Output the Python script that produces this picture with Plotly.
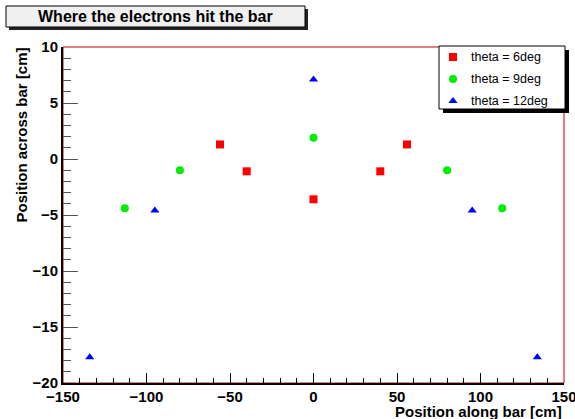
import plotly.graph_objects as go

# ---- data ----
x6 = [-56, -40, 0, 40, 56]
y6 = [1.3, -1.1, -3.6, -1.1, 1.3]
x9 = [-113, -80, 0, 80, 113]
y9 = [-4.4, -1.0, 1.9, -1.0, -4.4]
x12 = [-134, -95, 0, 95, 134]
y12 = [-17.7, -4.6, 7.1, -4.6, -17.7]
labels = ["theta = 6deg", "theta = 9deg", "theta = 12deg"]
colors = ["#ff0000", "#00ee00", "#0000ff"]
symbols = ["square", "circle", "triangle-up"]
title = "Where the electrons hit the bar"
xtitle = "Position along bar [cm]"
ytitle = "Position across bar [cm]"

W_, H_ = 575, 419
L, R, T, B = 63, 564, 47, 383
PW, PH = R - L, B - T

def px(x):
    return (x - L) / PW

def py(y):
    return (B - y) / PH

FONT = "Liberation Sans, Arial, Helvetica, sans-serif"

fig = go.Figure()
for xs, ys, lab, c, s in zip([x6, x9, x12], [y6, y9, y12], labels, colors, symbols):
    fig.add_trace(go.Scatter(x=xs, y=ys, mode="markers", name=lab,
                             marker=dict(color=c, symbol=s, size=8, line=dict(width=0)),
                             showlegend=False))

# legend markers on pixel axes
leg_rows = [57, 79, 101]
fig.add_trace(go.Scatter(x=[453] * 3, y=leg_rows, mode="markers", xaxis="x2", yaxis="y2",
                         marker=dict(color=colors, symbol=symbols, size=8, line=dict(width=0)),
                         showlegend=False, hoverinfo="skip", cliponaxis=False))

shapes = []
# title box shadow + box
shapes.append(dict(type="rect", xref="paper", yref="paper", x0=px(9), x1=px(308), y0=py(30), y1=py(9),
                   fillcolor="#222222", line=dict(width=0), layer="above"))
shapes.append(dict(type="rect", xref="paper", yref="paper", x0=px(6), x1=px(305), y0=py(27), y1=py(6),
                   fillcolor="#f0f0f0", line=dict(color="black", width=1), layer="above"))
# frame
shapes.append(dict(type="rect", xref="paper", yref="paper", x0=0, x1=1, y0=0, y1=1,
                   line=dict(color="#cc0000", width=1), layer="below"))
# legend shadow + box
shapes.append(dict(type="rect", xref="paper", yref="paper", x0=px(443), x1=px(569), y0=py(113), y1=py(50),
                   fillcolor="black", line=dict(width=0), layer="below"))
shapes.append(dict(type="rect", xref="paper", yref="paper", x0=px(439), x1=px(565), y0=py(109), y1=py(46),
                   fillcolor="white", line=dict(color="black", width=1), layer="below"))

annotations = [
    dict(text=f"<b>{title}</b>", xref="paper", yref="paper", x=px(155.5), y=py(16.5),
         xanchor="center", yanchor="middle", showarrow=False, font=dict(family=FONT, size=16, color="black")),
    dict(text=f"<b>{xtitle}</b>", xref="paper", yref="paper", x=px(564), y=py(411.5),
         xanchor="right", yanchor="middle", showarrow=False, font=dict(family=FONT, size=15, color="black")),
    dict(text=f"<b>{ytitle}</b>", xref="paper", yref="paper", x=px(21), y=py(46),
         xanchor="center", yanchor="top", textangle=-90, showarrow=False,
         font=dict(family=FONT, size=15, color="black")),
]
for lab, yr in zip(labels, leg_rows):
    annotations.append(dict(text=lab, xref="paper", yref="paper", x=px(469), y=py(yr),
                            xanchor="left", yanchor="middle", showarrow=False,
                            font=dict(family=FONT, size=12.5, color="black")))

fig.update_layout(
    width=W_, height=H_, margin=dict(l=L, r=W_ - R, t=T, b=H_ - B, autoexpand=False),
    paper_bgcolor="white", plot_bgcolor="rgba(0,0,0,0)",
    xaxis=dict(range=[-150, 150], dtick=50, tick0=-150, ticks="inside", ticklen=10, tickwidth=1,
               tickcolor="black", showgrid=False, zeroline=False, showline=True, linecolor="black",
               linewidth=2, mirror=False, ticklabeloverflow="allow", automargin=False,
               ticklabelstandoff=-1,
               minor=dict(dtick=10, ticks="inside", ticklen=5, tickcolor="black", showgrid=False),
               tickfont=dict(family=FONT, size=15, color="black", weight="bold")),
    yaxis=dict(range=[-20, 10], dtick=5, tick0=-20, ticks="inside", ticklen=15, tickwidth=1,
               tickcolor="#555555", showgrid=False, zeroline=False, showline=True, linecolor="black",
               linewidth=2, ticklabeloverflow="allow", automargin=False,
               minor=dict(dtick=1, ticks="inside", ticklen=8, tickcolor="#555555", showgrid=False),
               tickfont=dict(family=FONT, size=15, color="black", weight="bold")),
    xaxis2=dict(overlaying="x", range=[L, R], visible=False),
    yaxis2=dict(overlaying="y", range=[B, T], visible=False),
    shapes=shapes, annotations=annotations, showlegend=False,
)

fig.write_html("out.html")
